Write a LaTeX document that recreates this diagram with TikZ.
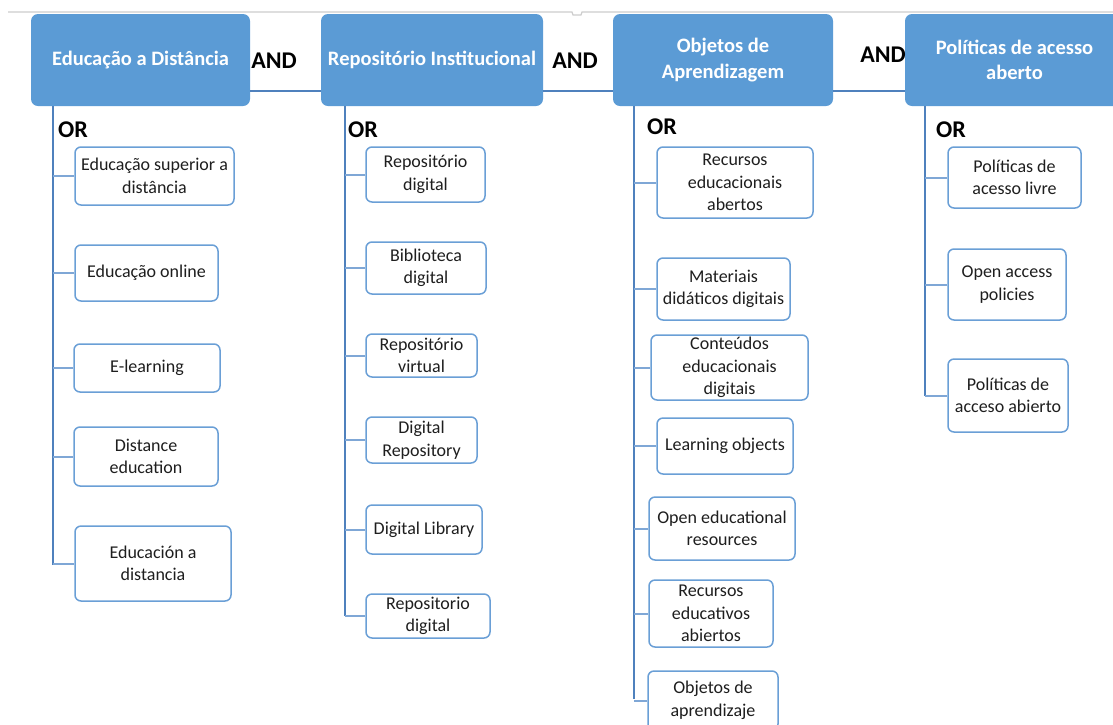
\documentclass[tikz,border=0pt]{standalone}
\usepackage{fontspec}
\setmainfont{Carlito}
\definecolor{hdr}{HTML}{5B9BD5}
\definecolor{bord}{HTML}{6A9FD6}
\definecolor{trunkc}{HTML}{4F81BD}
\definecolor{branchc}{HTML}{7FA7D6}
\definecolor{toplinec}{HTML}{CCCCCC}
\definecolor{txt}{HTML}{1E1E1E}
\begin{document}
\begin{tikzpicture}[x=1pt,y=-1pt,
 hbox/.style={draw=none, fill=hdr, rounded corners=7pt, text=white, font=\bfseries\fontsize{20.5}{25.5}\selectfont, align=center, inner sep=0pt},
 cbox/.style={draw=bord, line width=1.5pt, fill=white, rounded corners=6pt, font=\fontsize{18}{22.5}\selectfont, align=center, inner sep=0pt, text=txt},
 lbl/.style={font=\bfseries\fontsize{24}{28}\selectfont, inner sep=0pt, text=black},
 trunk/.style={draw=trunkc, line width=1.5pt},
 branch/.style={draw=branchc, line width=2pt},
 andline/.style={draw=trunkc, line width=2pt},
 topl/.style={draw=toplinec, line width=1.2pt}]
\useasboundingbox (0,0) rectangle (1113,724);
\clip (0,0) rectangle (1113,724);

% top gray rule
\coordinate (g0) at (8,12);
\coordinate (g1) at (1113,12);
\draw[topl] (g0) -- (572,12) -- (573,15) -- (581,15) -- (582,12) -- (g1);

% headers
\node[hbox, minimum width=219pt, minimum height=92pt] (H1) at (140.5,60) {Educação a Distância};
\node[hbox, minimum width=222pt, minimum height=92pt] (H2) at (432,60) {Repositório Institucional};
\node[hbox, minimum width=220pt, minimum height=92pt] (H3) at (723,60) {Objetos de\\Aprendizagem};
\node[hbox, minimum width=219pt, minimum height=92pt] (H4) at (1014.5,60) {Políticas de acesso\\aberto};

% AND connectors
\draw[andline] ([yshift=-31pt]H1.east) -- ([yshift=-31pt]H2.west);
\draw[andline] ([yshift=-31pt]H2.east) -- ([yshift=-31pt]H3.west);
\draw[andline] ([yshift=-31pt]H3.east) -- ([yshift=-31pt]H4.west);
\node[lbl] (and1) at (274,61) {AND};
\node[lbl] (and2) at (575,61) {AND};
\node[lbl] (and3) at (883,55) {AND};

% OR labels
\node[lbl] (or1) at (73,130) {OR};
\node[lbl] (or2) at (363,130) {OR};
\node[lbl] (or3) at (662,127) {OR};
\node[lbl] (or4) at (951,130) {OR};

% column 1
\node[cbox, minimum width=159pt, minimum height=58pt] (a1) at (154.5,176) {Educação superior a\\distância};
\node[cbox, minimum width=143pt, minimum height=56pt] (a2) at (146.5,273) {Educação online};
\node[cbox, minimum width=146pt, minimum height=48pt] (a3) at (147,368) {E-learning};
\node[cbox, minimum width=144pt, minimum height=59pt] (a4) at (146,456.5) {Distance\\education};
\node[cbox, minimum width=156pt, minimum height=75pt] (a5) at (153,563.5) {Educación a\\distancia};

% column 2
\node[cbox, minimum width=119pt, minimum height=55pt] (b1) at (425.5,174.5) {Repositório\\digital};
\node[cbox, minimum width=120pt, minimum height=52pt] (b2) at (426,268) {Biblioteca\\digital};
\node[cbox, minimum width=111pt, minimum height=43pt] (b3) at (421.5,355.5) {Repositório\\virtual};
\node[cbox, minimum width=111pt, minimum height=46pt] (b4) at (421.5,440) {Digital\\Repository};
\node[cbox, minimum width=116pt, minimum height=49pt] (b5) at (424,529.5) {Digital Library};
\node[cbox, minimum width=124pt, minimum height=44pt] (b6) at (428,616) {Repositorio\\digital};

% column 3
\node[cbox, minimum width=156pt, minimum height=71pt] (c1) at (735,182.5) {Recursos\\educacionais\\abertos};
\node[cbox, minimum width=133pt, minimum height=62pt] (c2) at (723.5,289) {Materiais\\didáticos digitais};
\node[cbox, minimum width=157pt, minimum height=65pt] (c3) at (729.5,367.5) {Conteúdos\\educacionais\\digitais};
\node[cbox, minimum width=136pt, minimum height=56pt] (c4) at (725,446) {Learning objects};
\node[cbox, minimum width=146pt, minimum height=63pt] (c5) at (722,528.5) {Open educational\\resources};
\node[cbox, minimum width=124pt, minimum height=67pt] (c6) at (711,613.5) {Recursos\\educativos\\abiertos};
\node[cbox, minimum width=130pt, minimum height=59pt] (c7) at (713,700.5) {Objetos de\\aprendizaje};

% column 4
\node[cbox, minimum width=133pt, minimum height=61pt] (d1) at (1014.5,177.5) {Políticas de\\acesso livre};
\node[cbox, minimum width=118pt, minimum height=71pt] (d2) at (1007,284.5) {Open access\\policies};
\node[cbox, minimum width=120pt, minimum height=73pt] (d3) at (1008,395.5) {Políticas de\\acceso abierto};

% trunks
\coordinate (e1) at (53,565);
\coordinate (e2) at (345,616);
\coordinate (e3) at (634,699);
\coordinate (e4) at (925,396);
\draw[trunk] (H1.south -| e1) -- (e1);
\draw[trunk] (H2.south -| e2) -- (e2);
\draw[trunk] (H3.south -| e3) -- (e3);
\draw[trunk] (H4.south -| e4) -- (e4);

% branches
\foreach \n in {a1,a2,a3,a4,a5} \draw[branch] (\n.west) -- (\n.west -| e1);
\foreach \n in {b1,b2,b3,b4,b5,b6} \draw[branch] (\n.west) -- (\n.west -| e2);
\foreach \n in {c1,c2,c3,c4,c5,c6,c7} \draw[branch] (\n.west) -- (\n.west -| e3);
\foreach \n in {d1,d2,d3} \draw[branch] (\n.west) -- (\n.west -| e4);
\end{tikzpicture}
\end{document}
